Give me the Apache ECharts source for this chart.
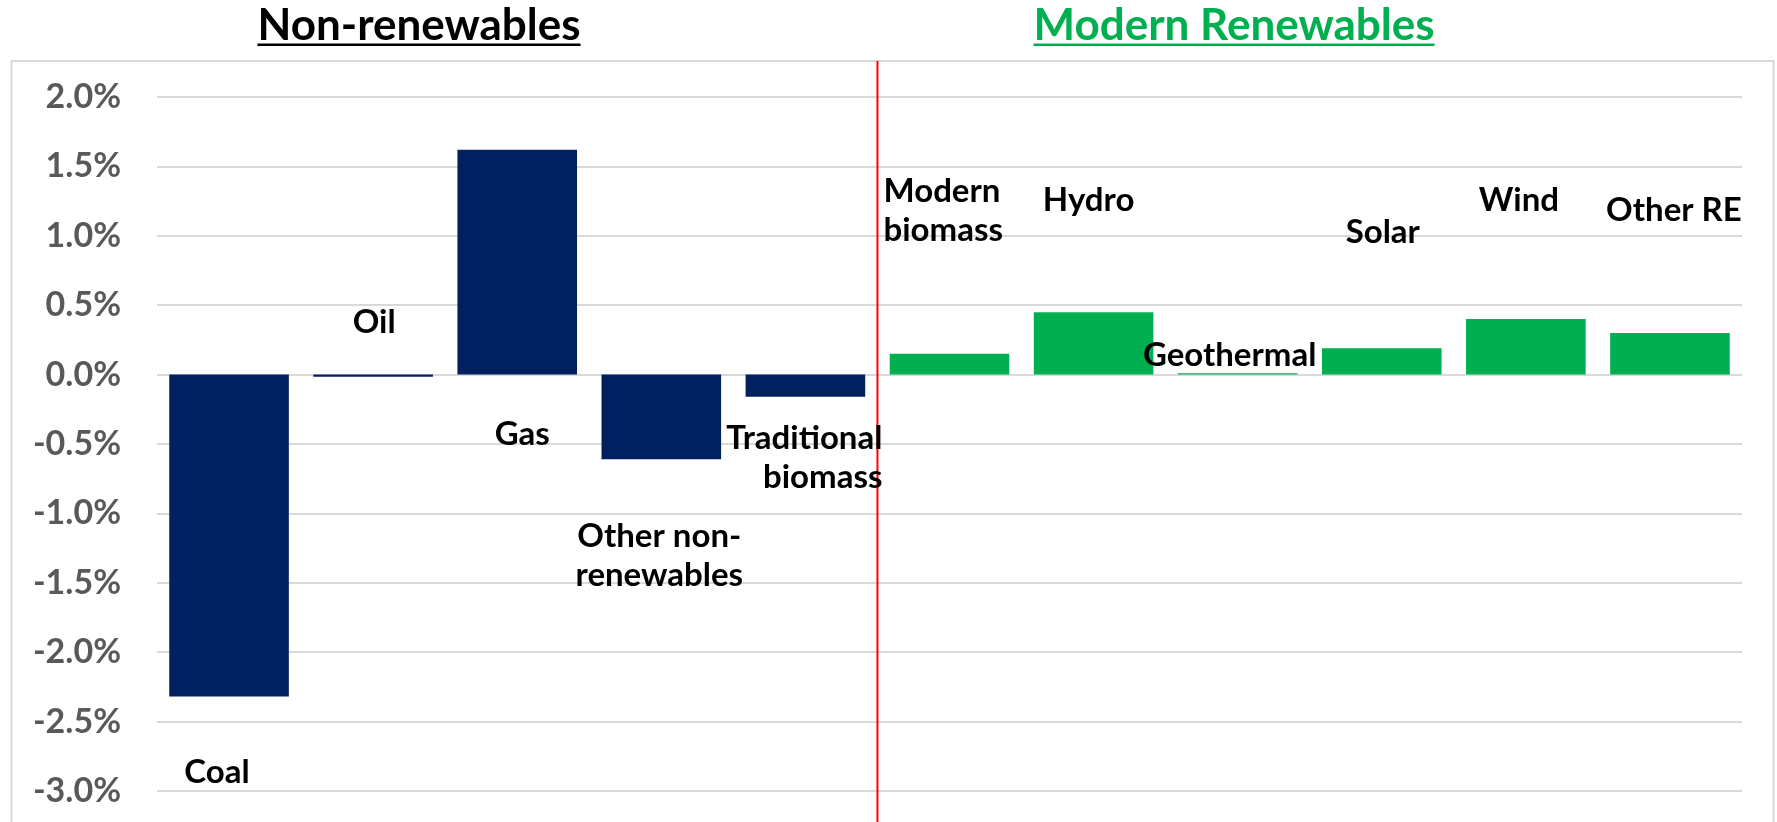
<!DOCTYPE html>
<html>
<head>
<meta charset="utf-8">
<title>Non-renewables vs Modern Renewables</title>
<script src="https://cdn.jsdelivr.net/npm/echarts@6/dist/echarts.min.js"></script>
<style>
  html, body { margin: 0; padding: 0; background: #fff; }
  #chart { width: 1777px; height: 822px; }
</style>
</head>
<body>
<div id="chart"></div>
<script>
// categories and change in share (percentage points)
const categories = ['Coal', 'Oil', 'Gas', 'Other non-\nrenewables', 'Traditional\nbiomass',
  'Modern\nbiomass', 'Hydro', 'Geothermal', 'Solar', 'Wind', 'Other RE'];
const values = [-2.32, -0.015, 1.62, -0.61, -0.16, 0.15, 0.45, 0.01, 0.19, 0.40, 0.30];
// which side of the divider each category belongs to
const groups = ['non', 'non', 'non', 'non', 'non', 're', 're', 're', 're', 're', 're'];
const groupTitles = ['Non-renewables', 'Modern Renewables'];
const yMin = -3, yMax = 2, yStep = 0.5;

// layout only: where each category name sits
// [x shift in px from category centre, y in axis units, text align]
const labelPlace = [
  [-12, -2.867, 'center'],
  [1, 0.377, 'center'],
  [5, -0.432, 'center'],
  [-2, -1.304, 'center'],
  [77, -0.598, 'right'],
  [-66, 1.182, 'left'],
  [-5, 1.254, 'center'],
  [-8, 0.137, 'center'],
  [1, 1.023, 'center'],
  [-7, 1.254, 'center'],
  [4, 1.182, 'center']
];

const colors = { non: '#002060', re: '#00B050' };
const FONT = 'Lato, "Noto Sans", sans-serif';

const chart = echarts.init(document.getElementById('chart'));

const option = {
  animation: false,
  backgroundColor: '#fff',
  grid: { left: 157, right: 35, top: 97, bottom: 31, outerBoundsMode: 'none' },
  xAxis: {
    type: 'category',
    data: categories,
    axisLine: { show: false },
    axisTick: { show: false },
    axisLabel: { show: false },
    splitLine: { show: false }
  },
  yAxis: {
    type: 'value',
    min: yMin,
    max: yMax,
    interval: yStep,
    axisLine: { show: false },
    axisTick: { show: false },
    axisLabel: {
      margin: 36,
      color: '#595959',
      fontSize: 34,
      fontWeight: 'bold',
      fontFamily: FONT,
      formatter: v => v.toFixed(1) + '%'
    },
    splitLine: { lineStyle: { color: '#d9d9d9', width: 2 } }
  },
  series: [{
    type: 'bar',
    barCategoryGap: '17%',
    data: values.map((v, i) => ({ value: v, itemStyle: { color: colors[groups[i]] } }))
  }]
};
chart.setOption(option);

// pixel helper through the chart's own scales
const px = (i, v) => chart.convertToPixel({ seriesIndex: 0 }, [i, v]);

const ctx = document.createElement('canvas').getContext('2d');
function textWidth(str, font) {
  ctx.font = font;
  return ctx.measureText(str).width;
}

const graphics = [];

// outer frame
graphics.push({
  type: 'rect', z: -1,
  shape: { x: 11.5, y: 61, width: 1762, height: 800 },
  style: { fill: 'none', stroke: '#d9d9d9', lineWidth: 2 }
});

// divider between the two groups
const splitIdx = groups.indexOf('re');
const divX = (px(splitIdx - 1, 0)[0] + px(splitIdx, 0)[0]) / 2;
graphics.push({
  type: 'line', z: 10,
  shape: { x1: divX, y1: 61, x2: divX, y2: 822 },
  style: { stroke: '#ff0000', lineWidth: 2 }
});

// underlined group titles
const titleFont = 'bold 44px ' + FONT;
const titleCentres = [419, 1234];
const titleColors = ['#000000', '#00B050'];
groupTitles.forEach((t, k) => {
  const w = textWidth(t, titleFont);
  graphics.push({
    type: 'text',
    style: {
      text: t, x: titleCentres[k], y: 26, font: titleFont, fill: titleColors[k],
      textAlign: 'center', textVerticalAlign: 'middle'
    }
  });
  graphics.push({
    type: 'rect',
    shape: { x: titleCentres[k] - w / 2, y: 43.5, width: w, height: 2.5 },
    style: { fill: titleColors[k] }
  });
});

// category names next to the bars
const labelFont = 'bold 33px ' + FONT;
categories.forEach((name, i) => {
  const p = labelPlace[i];
  const pt = px(i, p[1]);
  graphics.push({
    type: 'text', z: 20,
    style: {
      text: name, x: pt[0] + p[0], y: pt[1], font: labelFont, fill: '#000',
      textAlign: p[2], textVerticalAlign: 'middle', lineHeight: 39
    }
  });
});

chart.setOption({ graphic: graphics });
</script>
</body>
</html>
